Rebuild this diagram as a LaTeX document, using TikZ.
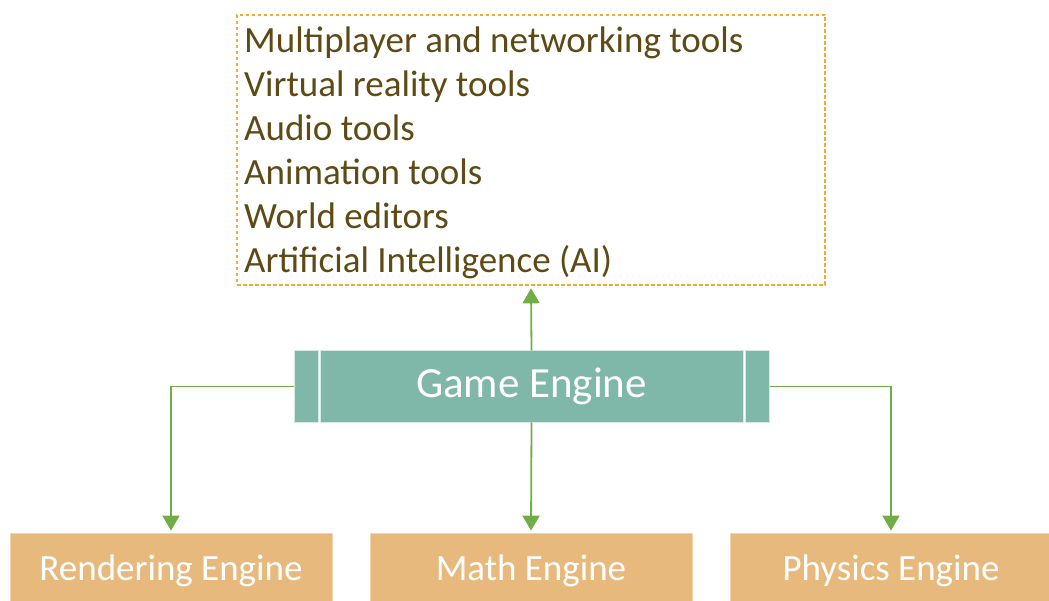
\documentclass[tikz,border=0pt]{standalone}
\usepackage{fontspec}
\setmainfont{Carlito}
\usetikzlibrary{arrows.meta}
\definecolor{teal}{HTML}{7FB7A9}
\definecolor{tealedge}{HTML}{D6EAE4}
\definecolor{sand}{HTML}{E8B97C}
\definecolor{sandedge}{HTML}{F2D3AA}
\definecolor{leaf}{HTML}{70AD47}
\definecolor{gold}{HTML}{EBAE2E}
\definecolor{bark}{HTML}{5E4A14}
\tikzset{
  engine/.style={rectangle, fill=teal, draw=tealedge, line width=1pt, inner sep=0pt},
  part/.style={rectangle, fill=sand, draw=sandedge, line width=0.8pt, inner sep=0pt,
    minimum width=322pt, minimum height=72pt, text=white, font=\fontsize{37}{41}\selectfont,
    text height=23pt, text depth=1pt},
  toolbox/.style={rectangle, draw=gold, line width=2.6pt, dash pattern=on 3.5pt off 2.5pt,
    minimum width=588pt, minimum height=270pt, inner sep=0pt},
  tool/.style={anchor=base west, inner sep=0pt, text=bark, font=\fontsize{37}{41}\selectfont},
  link/.style={draw=leaf, line width=1.8pt, -{Triangle[width=17pt,length=15pt]}, shorten >=2pt}
}
\begin{document}
\begin{tikzpicture}[x=1pt, y=-1pt]
\useasboundingbox (0,0) rectangle (1049,601);

% feature list
\node[toolbox] (tools) at (531,150) {};
\node[tool] (t1) at (244,53)  {Multiplayer and networking tools};
\node[tool] (t2) at (244,97)  {Virtual reality tools};
\node[tool] (t3) at (244,141) {Audio tools};
\node[tool] (t4) at (244,185) {Animation tools};
\node[tool] (t5) at (244,229) {World editors};
\node[tool] (t6) at (244,273) {Artificial Intelligence (AI)};

% game engine block with side bars
\node[engine, minimum width=423pt, minimum height=71pt, text=white,
      font=\fontsize{43}{47}\selectfont, text height=27pt, text depth=6pt]
      (ge) at (531.5,386.5) {Game Engine};
\node[engine, minimum width=24pt, minimum height=71pt] (gl) at (306,386.5) {};
\node[engine, minimum width=24pt, minimum height=71pt] (gr) at (757,386.5) {};

% sub-engines
\node[part] (render)  at (171,569) {Rendering Engine};
\node[part] (math)    at (531,569) {Math Engine};
\node[part] (physics) at (891,569) {Physics Engine};

% connectors
\draw[link] (ge.north) -- (tools.south);
\draw[link] (gl.west) -| (render.north);
\draw[link] (ge.south) -- (math.north);
\draw[link] (gr.east) -| (physics.north);
\end{tikzpicture}
\end{document}
